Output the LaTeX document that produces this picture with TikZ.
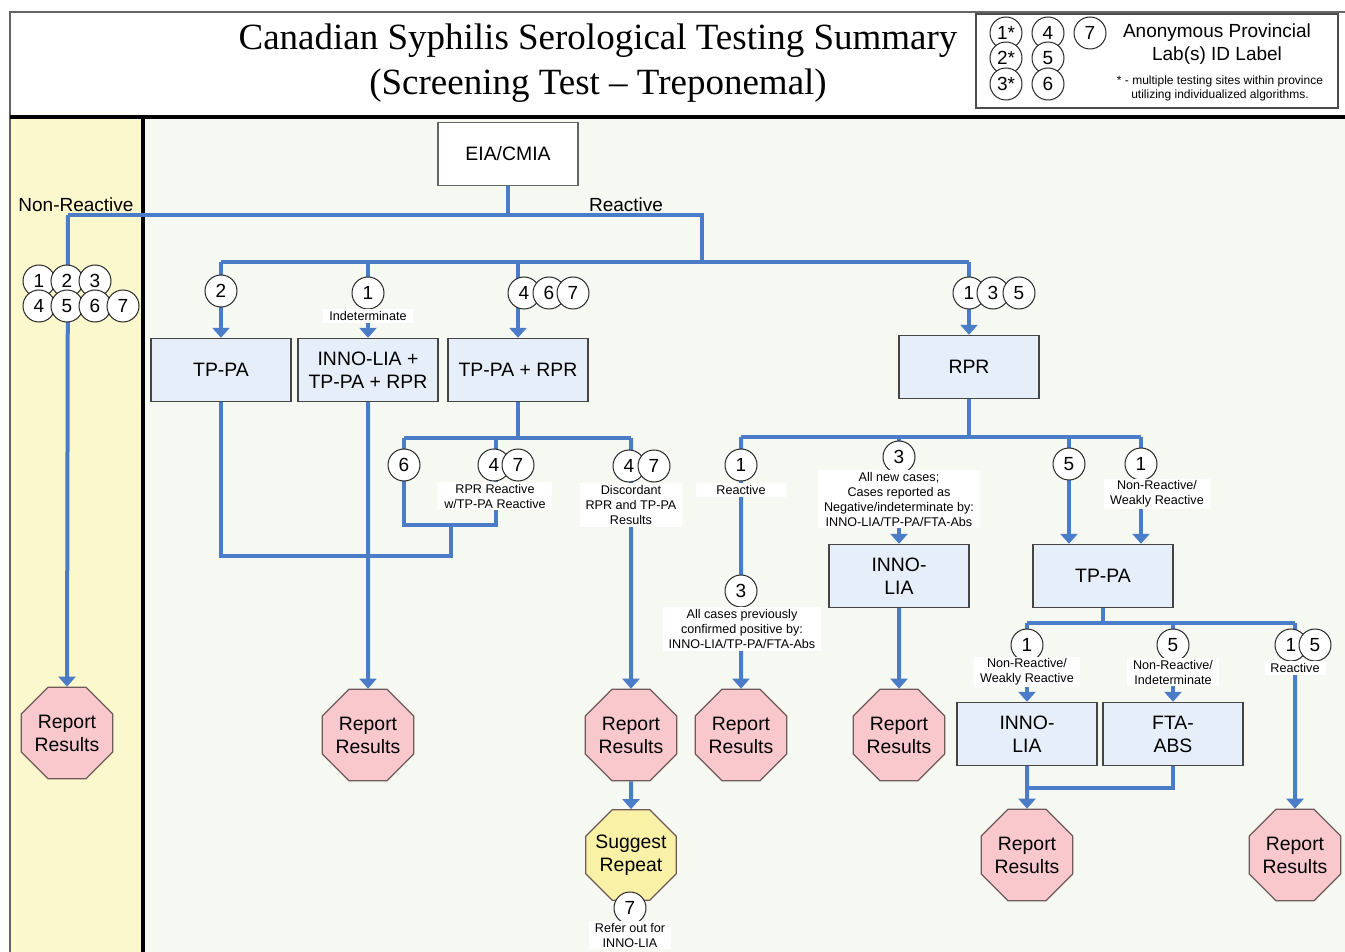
\documentclass[tikz,border=0pt]{standalone}
\usepackage{fontspec}
\setmainfont{Liberation Serif}
\setsansfont{Liberation Sans}
\usetikzlibrary{positioning,calc,shapes.geometric,arrows.meta}
\definecolor{flowblue}{HTML}{4A7CC8}
\definecolor{boxfill}{HTML}{E5EEF9}
\definecolor{boxedge}{HTML}{454545}
\definecolor{stopfill}{HTML}{F8C8CC}
\definecolor{stopedge}{HTML}{6E5A5A}
\definecolor{waitfill}{HTML}{F9F1A5}
\definecolor{laneyellow}{HTML}{FCF8CE}
\definecolor{panelbg}{HTML}{F6F8F2}
\pgfdeclarelayer{panel}
\pgfdeclarelayer{wires}
\pgfsetlayers{panel,wires,main}

\begin{document}
\begin{tikzpicture}[x=0.5pt,y=-0.5pt,
  flow/.style    ={draw=flowblue, line width=2pt},
  flowarr/.style ={flow, -{Triangle[width=8.5pt,length=5pt]}},
  testbox/.style ={rectangle, draw=boxedge, fill=boxfill, line width=0.7pt, minimum width=70pt, minimum height=31.5pt, align=center, font=\sffamily\fontsize{9.7}{11.5}\selectfont},
  firstbox/.style={testbox, fill=white, draw=black!60},
  reportoct/.style={regular polygon, regular polygon sides=8, minimum size=49pt, inner sep=0pt, draw=stopedge, fill=stopfill, line width=0.6pt, align=center, font=\sffamily\fontsize{9.7}{11.5}\selectfont},
  repeatoct/.style={reportoct, fill=waitfill, inner sep=-3pt},
  labnum/.style  ={circle, draw=black!85, fill=white, line width=0.5pt, minimum size=16pt, inner sep=0pt, font=\sffamily\fontsize{9.5}{11}\selectfont},
  cond/.style    ={fill=white, inner xsep=3pt, inner ysep=1pt, align=center, font=\sffamily\fontsize{6.3}{7.5}\selectfont},
  branchlbl/.style={font=\sffamily\fontsize{9.5}{11}\selectfont},
]
\useasboundingbox (0,0) rectangle (1345,952);
% page, lane and header
\begin{pgfonlayer}{panel}
  \fill[white] (0,0) rectangle (1345,952);
  \fill[laneyellow] (10,117) rectangle (143,952);
  \fill[panelbg] (143,117) rectangle (1345,952);
  \draw[black!60, line width=0.6pt] (1345,12) -- (10,12) -- (10,952);
  \draw[black, line width=2pt] (10,117) -- (1345,117);
  \draw[black, line width=2pt] (143,117) -- (143,952);
\end{pgfonlayer}
% title
\node[font=\fontsize{18.5}{22}\selectfont] (title1) at (598,41) {Canadian Syphilis Serological Testing Summary};
\node[font=\fontsize{18.5}{22}\selectfont] (title2) at (598,86) {(Screening Test -- Treponemal)};
% legend
\node[draw=black!70, fill=white, line width=0.6pt, minimum width=181pt, minimum height=47pt] (legend) at (1157,61) {};
\node[labnum] (lg1) at (1006,33) {1*};
\node[labnum] (lg2) at (1006,58) {2*};
\node[labnum] (lg3) at (1006,84) {3*};
\node[labnum] (lg4) at (1048,33) {4};
\node[labnum] (lg5) at (1048,58) {5};
\node[labnum] (lg6) at (1048,84) {6};
\node[labnum] (lg7) at (1090,33) {7};
\node[branchlbl] (lgtxt1) at (1217,33) {Anonymous Provincial};
\node[branchlbl] (lgtxt2) at (1217,56) {Lab(s) ID Label};
\node[font=\sffamily\fontsize{6}{7}\selectfont, align=center] (lgnote) at (1220,88) {* - multiple testing sites within province\\utilizing individualized algorithms.};
% tests
\node[firstbox] (eia)    at (508,154) {EIA/CMIA};
\node[testbox]  (tppa)   at (221,370) {TP-PA};
\node[testbox]  (inno3)  at (368,370) {INNO-LIA +\\TP-PA + RPR};
\node[testbox]  (tprpr)  at (518,370) {TP-PA + RPR};
\node[testbox]  (rpr)    at (969,367) {RPR};
\node[testbox]  (innoA)  at (899,576) {INNO-\\LIA};
\node[testbox]  (tppb)   at (1103,576) {TP-PA};
\node[testbox]  (innoB)  at (1027,734) {INNO-\\LIA};
\node[testbox]  (ftaabs) at (1173,734) {FTA-\\ABS};
% outcomes
\node[reportoct] (rrNR) at (67,733)   {Report\\Results};
\node[reportoct] (rr1)  at (368,735)  {Report\\Results};
\node[reportoct] (rr2)  at (631,735)  {Report\\Results};
\node[reportoct] (rr3)  at (741,735)  {Report\\Results};
\node[reportoct] (rr4)  at (899,735)  {Report\\Results};
\node[reportoct] (rr5)  at (1027,855) {Report\\Results};
\node[reportoct] (rr6)  at (1295,855) {Report\\Results};
\node[repeatoct] (rep)  at (631,855)  {Suggest\\Repeat};
% branch labels
\node[branchlbl] (nonreac) at (76,205)  {Non-Reactive};
\node[branchlbl] (reac)    at (626,205) {Reactive};
% junctions
\coordinate (jNR)   at (68,215);
\coordinate (jR)    at (702,215);
\coordinate (busL)  at (221,262);
\coordinate (busR)  at (969,262);
\coordinate (busTL) at (404,438);
\coordinate (busTR) at (631,438);
\coordinate (loopL) at (404,525);
\coordinate (loopR) at (496,525);
\coordinate (loopM) at (451,525);
\coordinate (joinT) at (451,556);
\coordinate (busRL) at (741,437);
\coordinate (busRR) at (1141,437);
\coordinate (in5)   at ($(tppb.north)+(-34,0)$);
\coordinate (in1)   at ($(tppb.north)+(38,0)$);
\coordinate (busBL) at (1027,623);
\coordinate (busBR) at (1295,623);
\coordinate (merge) at (1027,788);
% connectors
\begin{pgfonlayer}{wires}
  \draw[flow] (eia.south) -- (eia.south |- jR);
  \draw[flow] (jNR) -- (jR) -- (jR |- busL);
  \draw[flow] (busL) -- (busR);
  \draw[flowarr] (jNR) -- (rrNR.north);
  \draw[flowarr] (busL) -- (tppa.north);
  \draw[flowarr] (busL -| inno3.north) -- (inno3.north);
  \draw[flowarr] (busL -| tprpr.north) -- (tprpr.north);
  \draw[flowarr] (busR) -- (rpr.north);
  % TP-PA + RPR
  \draw[flow] (tprpr.south) -- (tprpr.south |- busTL);
  \draw[flow] (busTL) -- (busTR);
  \draw[flow] (busTL) -- (loopL) -- (loopR) -- (busTL -| loopR);
  \draw[flow] (tppa.south) -- (tppa.south |- joinT) -- (joinT) -- (loopM);
  \draw[flowarr] (inno3.south) -- (rr1.north);
  \draw[flowarr] (busTR) -- (rr2.north);
  \draw[flowarr] (rr2.south) -- (rep.north);
  % RPR
  \draw[flow] (rpr.south) -- (rpr.south |- busRL);
  \draw[flow] (busRL) -- (busRR);
  \draw[flowarr] (busRL) -- (rr3.north);
  \draw[flowarr] (busRL -| innoA.north) -- (innoA.north);
  \draw[flowarr] (innoA.south) -- (rr4.north);
  \draw[flowarr] (busRL -| in5) -- (in5);
  \draw[flowarr] (busRR) -- (in1);
  % TP-PA after RPR
  \draw[flow] (tppb.south) -- (tppb.south |- busBL);
  \draw[flow] (busBL) -- (busBR);
  \draw[flowarr] (busBL) -- (innoB.north);
  \draw[flowarr] (busBL -| ftaabs.north) -- (ftaabs.north);
  \draw[flowarr] (busBR) -- (rr6.north);
  \draw[flowarr] (innoB.south) -- (rr5.north);
  \draw[flow] (ftaabs.south) -- (ftaabs.south |- merge) -- (merge);
\end{pgfonlayer}
% lab IDs: non-reactive
\node[labnum] (a1) at (39,281) {1};
\node[labnum] (a2) at (67,281) {2};
\node[labnum] (a3) at (95,281) {3};
\node[labnum] (a4) at (39,306) {4};
\node[labnum] (a5) at (67,306) {5};
\node[labnum] (a6) at (95,306) {6};
\node[labnum] (a7) at (123,306) {7};
% lab IDs: first tier
\node[labnum] (b2) at (221,291) {2};
\node[labnum] (b1) at (368,293) {1};
\node[cond]   (t1) at (368,316) {Indeterminate};
\node[labnum] (b4) at (524,293) {4};
\node[labnum] (b6) at (549,293) {6};
\node[labnum] (b7) at (573,293) {7};
\node[labnum] (c1) at (969,293) {1};
\node[labnum] (c3) at (993,293) {3};
\node[labnum] (c5) at (1019,293) {5};
% under TP-PA + RPR
\node[labnum] (d6)  at (404,465) {6};
\node[labnum] (d4)  at (494,465) {4};
\node[labnum] (d7)  at (518,465) {7};
\node[cond]   (t2)  at (495,496) {RPR Reactive\\w/TP-PA Reactive};
\node[labnum] (d4b) at (629,466) {4};
\node[labnum] (d7b) at (654,466) {7};
\node[cond]   (t3)  at (631,505) {Discordant\\RPR and TP-PA\\Results};
% under RPR
\node[labnum] (e1)  at (741,465) {1};
\node[cond, minimum width=45pt] (t4) at (741,490) {Reactive};
\node[labnum] (e3b) at (741,591) {3};
\node[cond]   (t5)  at (742,629) {All cases previously\\confirmed positive by:\\INNO-LIA/TP-PA/FTA-Abs};
\node[labnum] (e3)  at (899,457) {3};
\node[cond]   (t6)  at (899,499) {All new cases;\\Cases reported as\\Negative/indeterminate by:\\INNO-LIA/TP-PA/FTA-Abs};
\node[labnum] (e5)  at (1069,464) {5};
\node[labnum] (e1b) at (1141,464) {1};
\node[cond]   (t7)  at (1157,494) {Non-Reactive/\\Weakly Reactive};
% under second TP-PA
\node[labnum] (f1)  at (1027,645) {1};
\node[cond]   (t8)  at (1027,672) {Non-Reactive/\\Weakly Reactive};
\node[labnum] (f5)  at (1173,645) {5};
\node[cond]   (t9)  at (1173,672) {Non-Reactive/\\Indeterminate};
\node[labnum] (f1b) at (1291,645) {1};
\node[labnum] (f5b) at (1315,645) {5};
\node[cond]   (t10) at (1295,668) {Reactive};
% refer out
\node[labnum] (g7)  at (630,908) {7};
\node[cond]   (t11) at (630,935) {Refer out for\\INNO-LIA};
\end{tikzpicture}
\end{document}
